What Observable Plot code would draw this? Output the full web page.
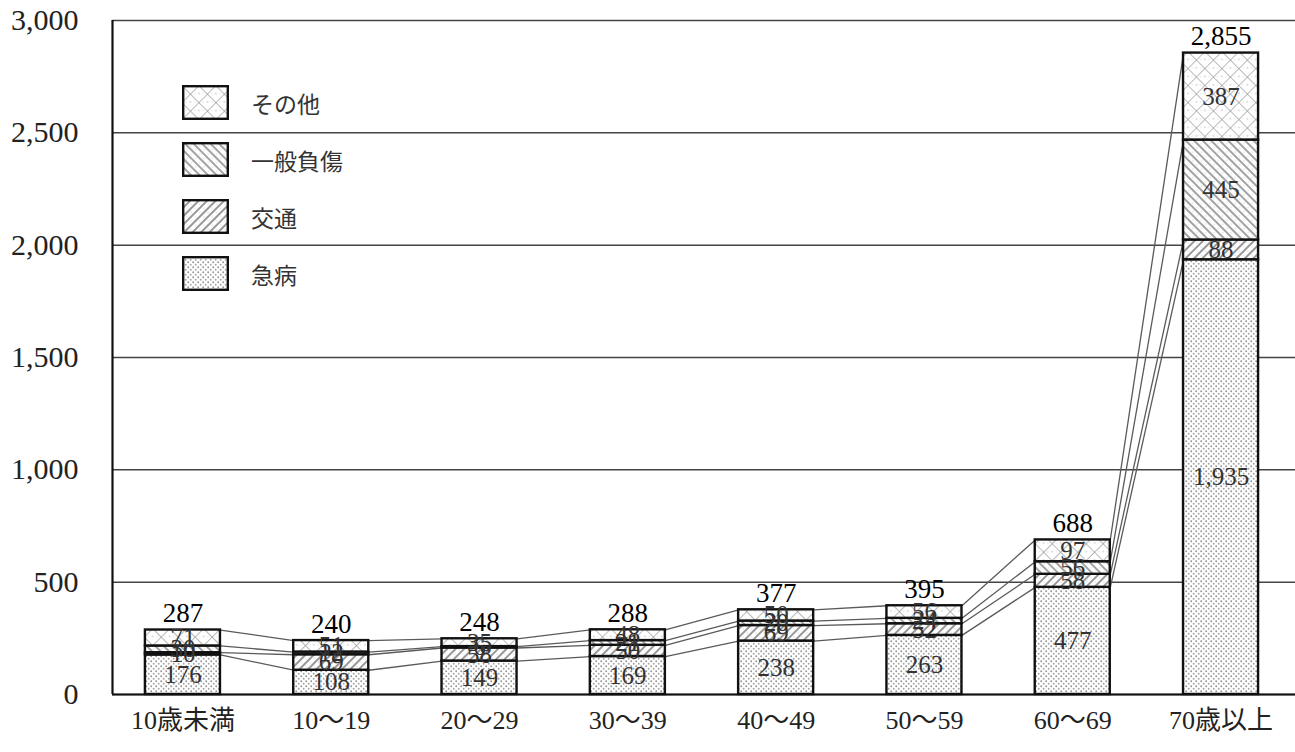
<!DOCTYPE html>
<html><head><meta charset="utf-8">
<script src="https://cdn.jsdelivr.net/npm/d3@7"></script>
<script src="https://cdn.jsdelivr.net/npm/@observablehq/plot@0.6"></script>
<style>
body{margin:0;background:#fff;}
#wrap{position:relative;width:1295px;height:752px;overflow:hidden;}
#chart svg{display:block;}
#legend{position:absolute;left:182px;top:85px;font-family:"Noto Sans CJK JP",sans-serif;font-size:23px;color:#333;}
.item{display:flex;align-items:center;height:35px;margin-bottom:22px;}
.item span{margin-left:22px;}
</style></head><body>
<div id="wrap"><div id="chart"></div><div id="legend"></div></div>
<script>
const ages = ["10歳未満","10～19","20～29","30～39","40～49","50～59","60～69","70歳以上"];
const types = ["急病","交通","一般負傷","その他"];
const kyubyo = [176,108,149,169,238,263,477,1935];
const kotsu  = [10,69,58,50,69,52,58,88];
const ippan  = [30,12,6,21,20,24,56,445];
const sonota = [71,51,35,48,50,56,97,387];
const totals = [287,240,248,288,377,395,688,2855];
const yTicks = [0,500,1000,1500,2000,2500,3000];

const series = [kyubyo, kotsu, ippan, sonota];
const patIds = ["p-kyubyo","p-kotsu","p-ippan","p-sonota"];
const patUrls = patIds.map(id => `url(#${id})`);
const fmt = d3.format(",");

const rows = [];
ages.forEach((a, i) => types.forEach((t, k) => rows.push({i, age: a, type: t, value: series[k][i]})));

const hw = 0.253;
const xDomain = [-0.475, 7.502];
const cum = ages.map((_, i) => d3.cumsum(series.map(s => s[i])));
const links = [];
for (let k = 0; k < types.length; k++)
  for (let i = 0; i < ages.length - 1; i++)
    links.push({x1: i + hw, x2: i + 1 - hw, y1: cum[i][k], y2: cum[i + 1][k]});

const serif = '"Liberation Serif", "Noto Sans CJK JP", serif';
const chart = Plot.plot({
  width: 1295, height: 752,
  marginLeft: 112, marginRight: 0, marginTop: 20, marginBottom: 58,
  style: {fontFamily: serif, background: "transparent", color: "#111"},
  x: {type: "linear", domain: xDomain},
  y: {domain: [0, 3000]},
  color: {type: "ordinal", domain: types, range: patUrls},
  marks: [
    Plot.ruleY(yTicks, {stroke: "#444", strokeWidth: 1.5}),
    Plot.link(links, {x1: "x1", y1: "y1", x2: "x2", y2: "y2", stroke: "#5a5a5a", strokeWidth: 1.3}),
    Plot.rectY(rows, Plot.stackY({x1: d => d.i - hw, x2: d => d.i + hw, y: "value", fill: "type", stroke: "#111", strokeWidth: 2.4})),
    Plot.text(rows, Plot.stackY({x: "i", y: "value", text: d => fmt(d.value), fill: "#333", fontSize: 25, fontFamily: serif})),
    Plot.text(totals.map((t, i) => ({i, t})), {x: "i", y: "t", text: d => fmt(d.t), lineAnchor: "bottom", dy: -8, fontSize: 27, fill: "#000", fontFamily: serif}),
    Plot.ruleY([0], {stroke: "#111", strokeWidth: 2.2}),
    Plot.ruleX([xDomain[0]], {stroke: "#111", strokeWidth: 2.2}),
    Plot.axisY({ticks: yTicks, tickSize: 0, tickPadding: 34, tickFormat: fmt, fontSize: 30, fontFamily: serif, fill: "#222"}),
    Plot.axisX({ticks: d3.range(ages.length), tickSize: 0, tickPadding: 16, tickFormat: i => ages[i], fontSize: 26, fontFamily: serif, fill: "#222"})
  ]
});

const defs = `
<pattern id="p-kyubyo" width="5" height="5" patternUnits="userSpaceOnUse">
  <rect width="5" height="5" fill="#fff"/>
  <circle cx="1.2" cy="1.2" r="0.95" fill="#959595"/>
  <circle cx="3.7" cy="3.7" r="0.95" fill="#a5a5a5"/>
</pattern>
<pattern id="p-kotsu" width="6" height="6" patternUnits="userSpaceOnUse" patternTransform="rotate(45)">
  <rect width="6" height="6" fill="#fff"/>
  <line x1="1" y1="0" x2="1" y2="6" stroke="#8c8c8c" stroke-width="1.8"/>
  <circle cx="4" cy="3" r="0.6" fill="#bbb"/>
</pattern>
<pattern id="p-ippan" width="6" height="6" patternUnits="userSpaceOnUse" patternTransform="rotate(-45)">
  <rect width="6" height="6" fill="#fff"/>
  <line x1="1" y1="0" x2="1" y2="6" stroke="#8c8c8c" stroke-width="1.6"/>
  <circle cx="4" cy="3" r="0.6" fill="#bbb"/>
</pattern>
<pattern id="p-sonota" width="12" height="12" patternUnits="userSpaceOnUse" patternTransform="rotate(45)">
  <rect width="12" height="12" fill="#fff"/>
  <line x1="0" y1="0" x2="0" y2="12" stroke="#999" stroke-width="1.4"/>
  <line x1="0" y1="0" x2="12" y2="0" stroke="#999" stroke-width="1.4"/>
  <circle cx="6" cy="6" r="0.8" fill="#bbb"/>
  <circle cx="3" cy="9" r="0.6" fill="#ccc"/>
  <circle cx="9" cy="3" r="0.6" fill="#ccc"/>
</pattern>`;
const defsEl = document.createElementNS("http://www.w3.org/2000/svg", "defs");
defsEl.innerHTML = defs;
chart.insertBefore(defsEl, chart.firstChild);
document.getElementById("chart").appendChild(chart);

const legend = document.getElementById("legend");
const order = [3, 2, 1, 0];
order.forEach(k => {
  const item = document.createElement("div");
  item.className = "item";
  item.innerHTML = `<svg width="47" height="35"><rect x="1.2" y="1.2" width="44.6" height="32.6" fill="${patUrls[k]}" stroke="#111" stroke-width="2.4"/></svg><span>${types[k]}</span>`;
  legend.appendChild(item);
});
</script>
</body></html>
